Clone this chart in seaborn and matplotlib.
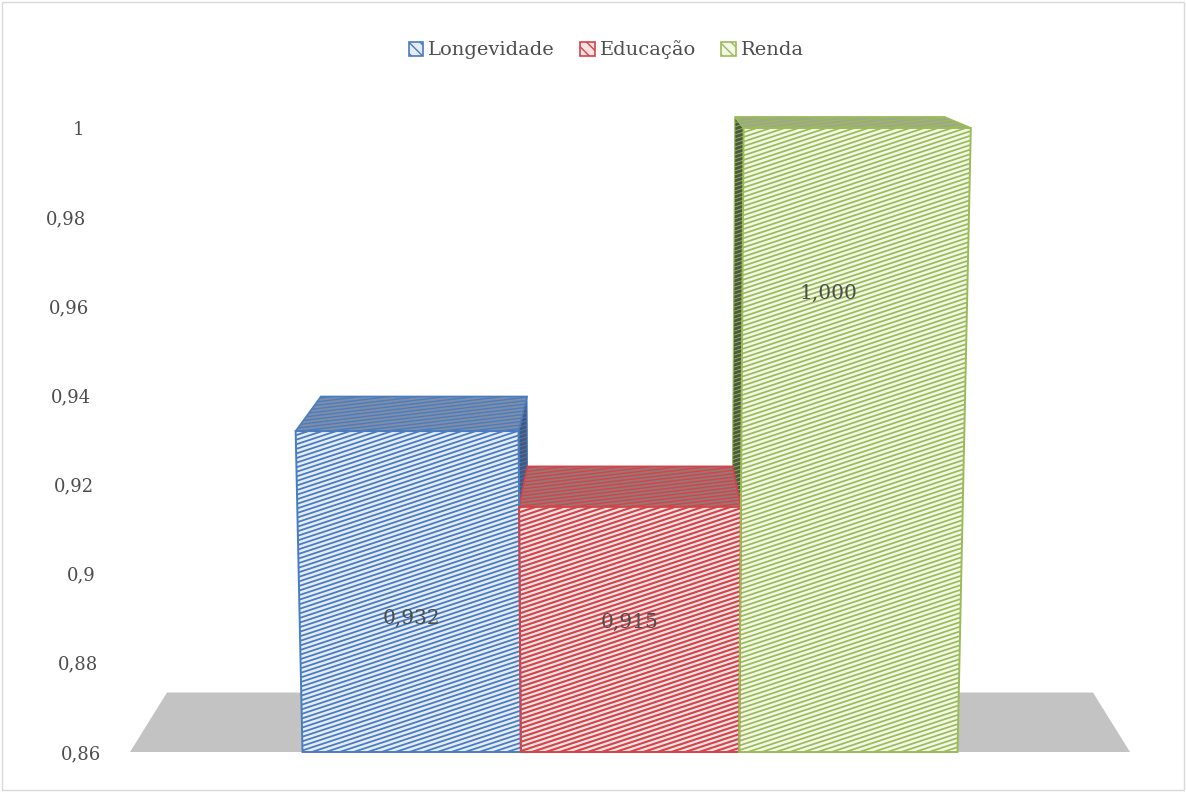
import numpy as np
import pandas as pd
import matplotlib
matplotlib.use("Agg")
import matplotlib.pyplot as plt
import seaborn as sns
from matplotlib.patches import Polygon, Patch, Rectangle
from matplotlib.collections import LineCollection
from matplotlib.transforms import ScaledTranslation

# ---- data ----
categories = ["Longevidade", "Educação", "Renda"]
values = [0.932, 0.915, 1.000]
value_labels = ["0,932", "0,915", "1,000"]
y_ticks = [0.86, 0.88, 0.90, 0.92, 0.94, 0.96, 0.98, 1.00]
y_tick_labels = ["0,86", "0,88", "0,9", "0,92", "0,94", "0,96", "0,98", "1"]

# ---- styles ----
line_colors = ["#4A7CC0", "#D2444A", "#9BBB59"]
face_colors = ["#e3ecf8", "#f8e3e2", "#f2f7e6"]
top_colors = ["#7f8ea6", "#9a7575", "#9da68d"]
side_colors = ["#44597a", "#6e3b3a", "#4c5942"]
hatch_lw = [1.3, 1.5, 1.25]
text_color = "#4d4d4d"

sns.set_theme(style="white")
plt.rcParams["font.family"] = ["DejaVu Serif"]

W, H = 1186, 792
fig = plt.figure(figsize=(W / 100, H / 100), dpi=100)
ax = fig.add_axes([130 / W, 40 / H, 1000 / W, 624 / H])

df = pd.DataFrame({"Indicador": categories, "Valor": values})
sns.barplot(data=df, x="Indicador", y="Valor", hue="Indicador",
            palette=face_colors, width=1.0, legend=False, ax=ax,
            saturation=1.0)
bars = [p for p in ax.patches if isinstance(p, Rectangle) and p.get_width() > 0.5]
bars = sorted(bars, key=lambda p: p.get_x())

xlim = (-1.29, 3.29)
ylim = (0.86, 1.0)
ax.set_xlim(*xlim)
ax.set_ylim(*ylim)

# pixel scales
sx = 1000 / (xlim[1] - xlim[0])
sy = 624 / (ylim[1] - ylim[0])

# perspective for the 3D look: depth vanishing point + slight vertical convergence
vpx, vpy, k = 1.0, 1.032, 0.0776
xc, conv = 1.0, 0.29


def back(p):
    x, y = p
    return (x + (vpx - x) * k, y + (vpy - y) * k)


def proj(p):
    x, y = p
    f = 1 + conv * (y - ylim[0])
    return (xc + (x - xc) * f, y)


def face(pts, fc, ec, lw, z):
    pts = [proj(p) for p in pts]
    poly = Polygon(pts, closed=True, facecolor=fc, edgecolor=ec, linewidth=lw,
                   zorder=z, clip_on=False)
    ax.add_patch(poly)
    return pts, poly


def hatch(verts, color, lw, z, spacing_px=4.6, slope_px=0.33):
    verts = np.asarray(verts)
    clip = Polygon(verts, closed=True, transform=ax.transData)
    xmin, xmax = verts[:, 0].min(), verts[:, 0].max()
    ymin, ymax = verts[:, 1].min(), verts[:, 1].max()
    sd = slope_px * sx / sy
    step = spacing_px / sy
    span = sd * (xmax - xmin)
    segs = [[(xmin, b), (xmax, b + span)]
            for b in np.arange(ymin - span, ymax + step, step)]
    lc = LineCollection(segs, colors=color, linewidths=lw, zorder=z)
    lc.set_clip_path(clip)
    ax.add_collection(lc, autolim=False)


# floor
f0 = (xlim[0], ylim[0])
f1 = (xlim[1], ylim[0])
face([f0, f1, back(f1), back(f0)], "#c3c3c3", "none", 0, 0.5)

b0 = ylim[0]
for i, (bar, v) in enumerate(zip(bars, values)):
    l, r = bar.get_x(), bar.get_x() + bar.get_width()
    # the seaborn bar gives the geometry; it is re-drawn below in perspective
    bar.set_alpha(0)
    # side faces
    if vpx > r:
        side = [(r, b0), (r, v), back((r, v)), back((r, b0))]
    elif vpx < l:
        side = [(l, b0), (l, v), back((l, v)), back((l, b0))]
    else:
        side = None
    if side is not None:
        pts, _ = face(side, side_colors[i], line_colors[i], 0.8, 1.0)
        hatch(pts, line_colors[i], 0.6, 1.05, spacing_px=4)
    # top face
    top = [(l, v), (r, v), back((r, v)), back((l, v))]
    pts, _ = face(top, top_colors[i], line_colors[i], 1.2, 1.5)
    hatch(pts, line_colors[i], 1.0, 1.55, spacing_px=3.4, slope_px=0.12)
    # front face
    front = [(l, b0), (r, b0), (r, v), (l, v)]
    pts, _ = face(front, face_colors[i], "none", 0, 2.0)
    hatch(pts, line_colors[i], hatch_lw[i], 2.05)
    ax.add_patch(Polygon(pts, closed=True, fill=False, edgecolor=line_colors[i],
                         linewidth=1.4, zorder=2.1, clip_on=False))

# data labels
label_dx = [0.0, 0.0, -0.09]
label_y = [0.890, 0.889, 0.963]
for i, lab in enumerate(value_labels):
    ax.text(i + label_dx[i], label_y[i], lab, ha="center", va="center",
            fontsize=14.5, color=text_color, zorder=5)

# axes styling
ax.set_xticks([])
ax.set_xlabel("")
ax.set_ylabel("")
ax.set_yticks(y_ticks, y_tick_labels)
ax.tick_params(axis="y", length=0, pad=20.9, labelsize=13, labelcolor=text_color)
for s in ax.spines.values():
    s.set_visible(False)
ax.grid(False)
ax.set_facecolor("none")
for lbl, v in zip(ax.get_yticklabels(), y_ticks):
    shift = (v - ylim[0]) / (ylim[1] - ylim[0]) * 17 / 100
    lbl.set_transform(lbl.get_transform() + ScaledTranslation(-shift, 0, fig.dpi_scale_trans))

# legend
handles = [Patch(facecolor=face_colors[i], edgecolor=line_colors[i],
                 hatch="\\\\\\", linewidth=1.2) for i in range(3)]
fig.legend(handles, categories, loc="center", bbox_to_anchor=(0.5 + 13 / W, 1 - 50 / H),
           ncol=3, frameon=False, fontsize=14, handlelength=0.75, handleheight=0.75,
           handletextpad=0.25, columnspacing=1.3, labelcolor=text_color)

# chart border
fig.add_artist(Rectangle((2 / W, 2 / H), 1 - 4 / W, 1 - 4 / H, transform=fig.transFigure,
                         fill=False, edgecolor="#d9d9d9", linewidth=1))

fig.savefig("out.png", dpi=100)
